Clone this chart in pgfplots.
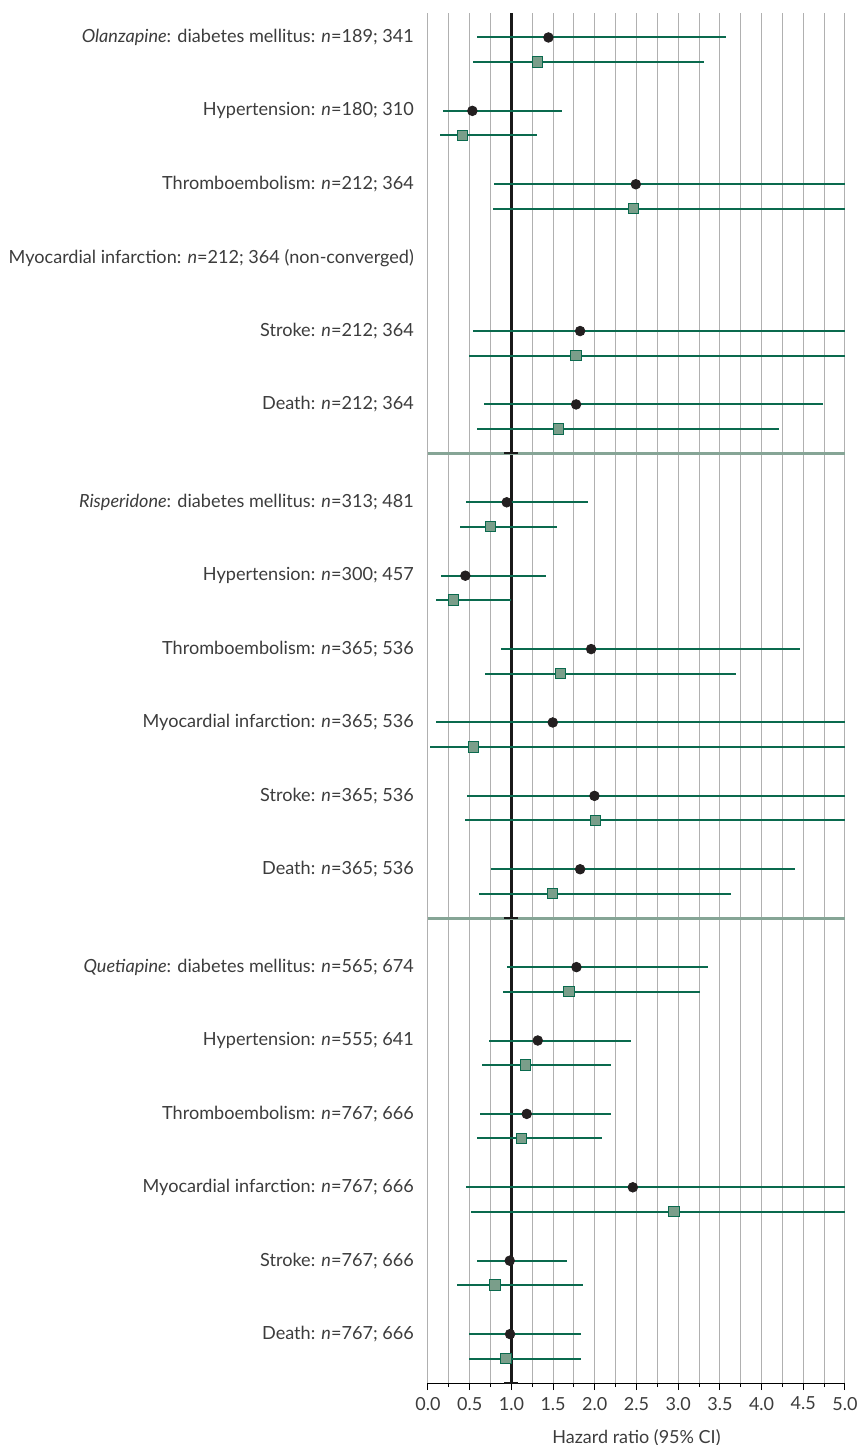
\documentclass[border=0pt]{standalone}
\usepackage{pgfplots}
\pgfplotsset{compat=1.18}
\usepackage{pgfplotstable}
\usepackage{fontspec}
\setmainfont{Lato}
\definecolor{ci}{HTML}{0A6A4E}
\definecolor{sqfill}{HTML}{7A9E8A}
\definecolor{sepc}{HTML}{86A596}
\definecolor{gridc}{HTML}{B0B0B0}
\definecolor{txt}{HTML}{3C3C3C}
\definecolor{dot}{HTML}{231F20}

\pgfplotstableread{
y hr lo hi
1 1.444 0.59 3.576
4 0.532 0.18 1.612
7 2.492 0.792 5
13 1.824 0.54 5
16 1.776 0.672 4.736
20 0.944 0.46 1.92
23 0.448 0.156 1.412
26 1.956 0.872 4.456
29 1.496 0.10 5
32 1.996 0.472 5
35 1.824 0.752 4.40
39 1.78 0.952 3.36
42 1.316 0.728 2.432
45 1.184 0.624 2.196
48 2.456 0.46 5
51 0.98 0.592 1.664
54 0.984 0.488 1.84
}\tabC

\pgfplotstableread{
y hr lo hi
2 1.316 0.54 3.312
5 0.412 0.144 1.304
8 2.464 0.78 5
14 1.776 0.488 5
17 1.564 0.592 4.204
21 0.748 0.38 1.548
24 0.308 0.096 1.0
27 1.592 0.688 3.696
30 0.548 0.024 5
33 2.012 0.448 5
36 1.496 0.616 3.632
40 1.692 0.90 3.256
43 1.172 0.648 2.192
46 1.12 0.592 2.084
49 2.948 0.512 5
52 0.804 0.352 1.864
55 0.936 0.488 1.84
}\tabS

\begin{document}
\begin{tikzpicture}
\begin{axis}[
  at={(0,0)}, anchor=south west,
  scale only axis, width=208.5pt, height=685pt,
  xmin=0, xmax=5, ymin=0, ymax=56, y dir=reverse,
  axis x line*=bottom, axis y line*=left,
  x axis line style={-, black, line width=0.5pt},
  y axis line style={draw=none},
  xtick={0,0.5,1,1.5,2,2.5,3,3.5,4,4.5,5},
  minor x tick num=1,
  xmajorgrids, xminorgrids,
  major grid style={gridc, line width=0.5pt},
  minor grid style={gridc, line width=0.5pt},
  tick align=outside,
  major tick length=3.5pt, minor tick length=2pt,
  x tick style={black, line width=0.5pt},
  y tick style={draw=none},
  xticklabel style={font=\fontsize{9}{10}\selectfont, text=txt,
    /pgf/number format/fixed, /pgf/number format/fixed zerofill,
    /pgf/number format/precision=1, /pgf/number format/assume math mode=true},
  ytick={1,4,7,10,13,16,20,23,26,29,32,35,39,42,45,48,51,54},
  yticklabels={
    {\textit{Olanzapine}: diabetes mellitus: \textit{n}=189; 341},
    {Hypertension: \textit{n}=180; 310},
    {Thromboembolism: \textit{n}=212; 364},
    {Myocardial infarction: \textit{n}=212; 364 (non-converged)},
    {Stroke: \textit{n}=212; 364},
    {Death: \textit{n}=212; 364},
    {\textit{Risperidone}: diabetes mellitus: \textit{n}=313; 481},
    {Hypertension: \textit{n}=300; 457},
    {Thromboembolism: \textit{n}=365; 536},
    {Myocardial infarction: \textit{n}=365; 536},
    {Stroke: \textit{n}=365; 536},
    {Death: \textit{n}=365; 536},
    {\textit{Quetiapine}: diabetes mellitus: \textit{n}=565; 674},
    {Hypertension: \textit{n}=555; 641},
    {Thromboembolism: \textit{n}=767; 666},
    {Myocardial infarction: \textit{n}=767; 666},
    {Stroke: \textit{n}=767; 666},
    {Death: \textit{n}=767; 666}},
  yticklabel style={font=\fontsize{9.05}{10}\selectfont, text=txt},
  xlabel={Hazard ratio (95\% CI)},
  xlabel style={font=\fontsize{9}{10}\selectfont, text=txt, yshift=-3pt},
  clip=false,
]
% reference line at HR = 1
\addplot[black!90, line width=1.25pt] coordinates {(1,0) (1,56)};
% separators
\addplot[sepc, line width=1.5pt] coordinates {(0,18) (5,18)};
\addplot[sepc, line width=1.5pt] coordinates {(0,37) (5,37)};
\addplot[black!90, line width=1pt] coordinates {(0.912,18) (1.084,18)};
\addplot[black!90, line width=1pt] coordinates {(0.912,37) (1.084,37)};
\addplot[black!90, line width=1pt] coordinates {(0.912,56) (1.084,56)};
% confidence intervals
\addplot[draw=none, mark=none,
  error bars/.cd, x dir=both, x explicit, error mark=none,
  error bar style={color=ci, line width=1pt}]
  table[x=hr, y=y, x error plus expr=\thisrow{hi}-\thisrow{hr}, x error minus expr=\thisrow{hr}-\thisrow{lo}]{\tabC};
\addplot[draw=none, mark=none,
  error bars/.cd, x dir=both, x explicit, error mark=none,
  error bar style={color=ci, line width=1pt}]
  table[x=hr, y=y, x error plus expr=\thisrow{hi}-\thisrow{hr}, x error minus expr=\thisrow{hr}-\thisrow{lo}]{\tabS};
% point estimates
\addplot[only marks, mark=*, mark size=2.4pt, mark options={fill=dot, draw=dot}]
  table[x=hr, y=y]{\tabC};
\addplot[only marks, mark=square*, mark size=2.6pt, mark options={fill=sqfill, draw=ci, line width=0.5pt}]
  table[x=hr, y=y]{\tabS};
\end{axis}
\pgfresetboundingbox
\path[use as bounding box] (-214pt,-31pt) rectangle (215pt,691.5pt);
\end{tikzpicture}
\end{document}
